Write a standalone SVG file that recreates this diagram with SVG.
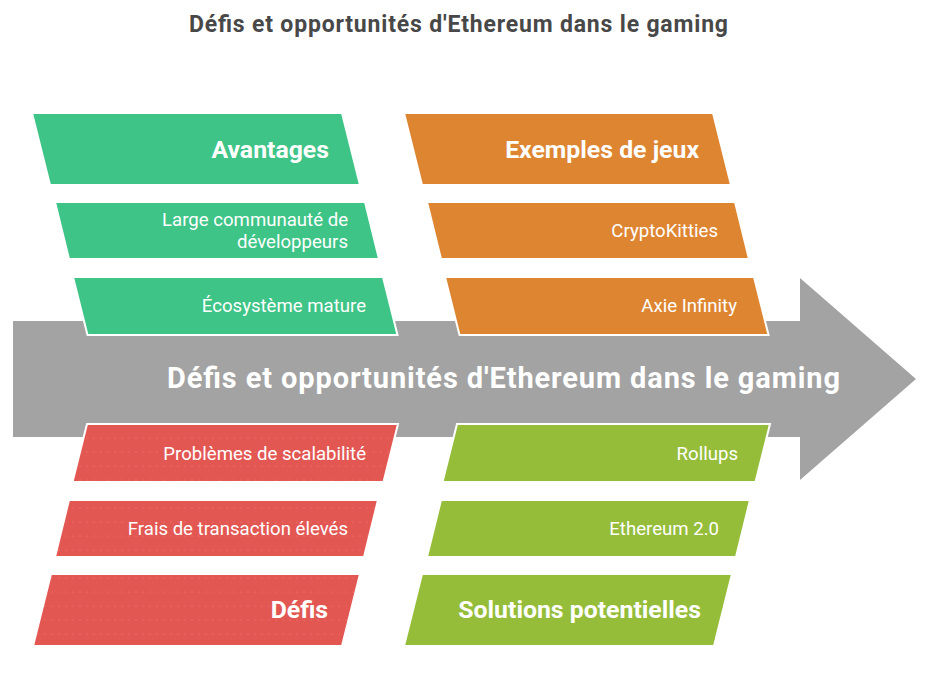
<svg xmlns="http://www.w3.org/2000/svg" width="925" height="680" viewBox="0 0 925 680">
<defs>
<pattern id="dots" width="7" height="14" patternUnits="userSpaceOnUse">
<circle cx="3" cy="4" r="0.6" fill="#ffffff" fill-opacity="0.25"/>
</pattern>
<style>
.shape{stroke:#ffffff;stroke-width:2;stroke-linejoin:miter}
.green{fill:#3ec487}
.orange{fill:#de8532}
.red{fill:#e35753}
.lime{fill:#95bd3a}
.head{font-family:Roboto,"Liberation Sans",sans-serif;font-weight:700;font-size:24.8px;fill:#ffffff;text-anchor:end}
.item{font-family:Roboto,"Liberation Sans",sans-serif;font-weight:400;font-size:18.6px;fill:#ffffff;text-anchor:end}
</style>
</defs>
<rect width="925" height="680" fill="#ffffff"/>
<text x="189" y="31.5" font-family="Roboto,'Liberation Sans',sans-serif" font-weight="700" font-size="23" fill="#484848" textLength="539" lengthAdjust="spacing">Défis et opportunités d'Ethereum dans le gaming</text>

<g id="spine">
<path d="M13,321 H800 V278 L916,379 L800,480 V437 H13 Z" fill="#a3a3a3"/>
<text x="167" y="388" font-family="Roboto,'Liberation Sans',sans-serif" font-weight="700" font-size="29" fill="#ffffff" textLength="673" lengthAdjust="spacing">Défis et opportunités d'Ethereum dans le gaming</text>
</g>

<g id="connectors"></g>

<g id="avantages">
<polygon class="shape green" points="32,113 342,113 360,185 50,185"/>
<text class="head" x="329" y="158">Avantages</text>
</g>
<g id="large-communaute">
<polygon class="shape green" points="55,202 365,202 379,259 69,259"/>
<text class="item" x="348" y="226">Large communauté de</text>
<text class="item" x="348" y="248">développeurs</text>
</g>
<g id="ecosysteme">
<polygon class="shape green" points="73,277 383,277 397.5,335 87.5,335"/>
<text class="item" x="366" y="312">Écosystème mature</text>
</g>

<g id="exemples">
<polygon class="shape orange" points="404,113 713,113 731,185 422,185"/>
<text class="head" x="699" y="158">Exemples de jeux</text>
</g>
<g id="cryptokitties">
<polygon class="shape orange" points="427,202 735,202 749,259 441,259"/>
<text class="item" x="718" y="237">CryptoKitties</text>
</g>
<g id="axie">
<polygon class="shape orange" points="445,277 754,277 768.5,335 459.5,335"/>
<text class="item" x="737" y="312">Axie Infinity</text>
</g>

<g id="problemes">
<polygon class="shape red" points="87,424 398,424 383.5,482 72.5,482"/>
<polygon points="87,424 398,424 383.5,482 72.5,482" fill="url(#dots)"/>
<text class="item" x="366" y="460">Problèmes de scalabilité</text>
</g>
<g id="frais">
<polygon class="shape red" points="69,500 378,500 364,557 55,557"/>
<polygon points="69,500 378,500 364,557 55,557" fill="url(#dots)"/>
<text class="item" x="348" y="535">Frais de transaction élevés</text>
</g>
<g id="defis">
<polygon class="shape red" points="51,574 360,574 342,646 33,646"/>
<polygon points="51,574 360,574 342,646 33,646" fill="url(#dots)"/>
<text class="head" x="328" y="618">Défis</text>
</g>

<g id="rollups">
<polygon class="shape lime" points="457,424 770,424 755.5,482 442.5,482"/>
<text class="item" x="738" y="460">Rollups</text>
</g>
<g id="ethereum2">
<polygon class="shape lime" points="441,500 750,500 736,557 427,557"/>
<text class="item" x="719" y="535">Ethereum 2.0</text>
</g>
<g id="solutions">
<polygon class="shape lime" points="422,574 732,574 714,646 404,646"/>
<text class="head" x="701" y="618">Solutions potentielles</text>
</g>
</svg>
